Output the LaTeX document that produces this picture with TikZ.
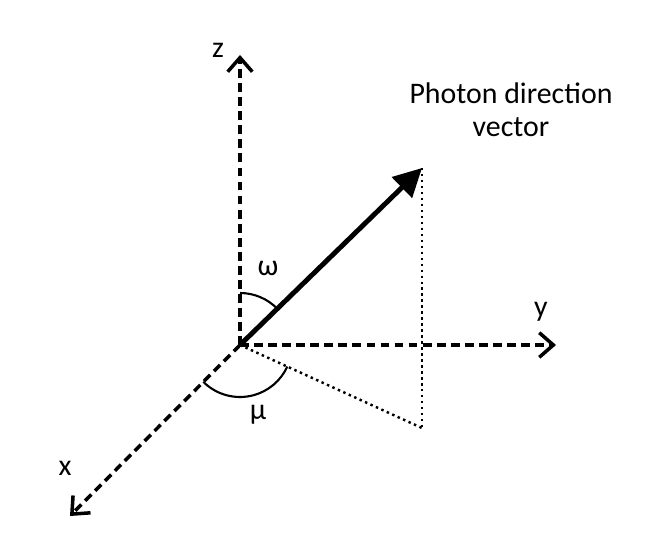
\documentclass[tikz,border=0pt]{standalone}
\usepackage{fontspec}
\setmainfont{Carlito}
\usetikzlibrary{arrows.meta}
\begin{document}
\begin{tikzpicture}[x=0.02cm,y=-0.02cm,
    axis/.style={line width=2pt, dash pattern=on 5pt off 3pt, -{Straight Barb[length=8pt,width=14pt,line width=2pt]}},
    vec/.style={line width=2.8pt, -{Triangle[length=16pt,width=16pt]}},
    proj/.style={line width=1.4pt, dotted},
    lab/.style={font=\fontsize{17}{19}\selectfont, inner sep=0pt}
]
\useasboundingbox (0,0) rectangle (659,554);
\coordinate (O) at (240,345);
\coordinate (zt) at (240,55);
\coordinate (yt) at (556,345);
\coordinate (xt) at (70,516);
\coordinate (P) at (422,168);
\coordinate (Q) at (422,428);
% axes
\draw[axis] (O) -- (zt);
\draw[axis] (O) -- (yt);
\draw[axis] (O) -- (xt);
% projection
\draw[proj] (P) -- (Q);
\draw[proj] (O) -- (Q);
% photon vector
\draw[vec] (O) -- (P);
% angles
\draw[line width=1.2pt] (O) ++(0,-52) arc[start angle=-90, end angle=-44, radius=52];
\draw[line width=1.2pt] (O) ++(135:52) arc[start angle=135, end angle=24.5, radius=52];
% labels
\node[lab] (zlab) at (218,50) {z};
\node[lab] (ylab) at (541,312) {y};
\node[lab] (xlab) at (65,468) {x};
\node[lab] (wlab) at (268,268) {ω};
\node[lab] (mlab) at (258,415) {μ};
\node[lab, align=center] (plab) at (511,110) {Photon direction\\vector};
\end{tikzpicture}
\end{document}
